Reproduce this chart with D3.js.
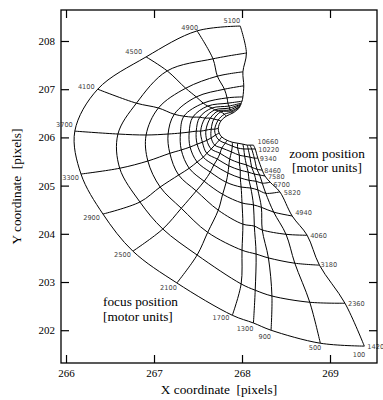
<!DOCTYPE html>
<html>
<head>
<meta charset="utf-8">
<script src="https://cdn.jsdelivr.net/npm/d3@7/dist/d3.min.js"></script>
<style>
  body { margin: 0; background: #fff; }
  text { white-space: pre; }
</style>
</head>
<body>
<svg id="chart" width="383" height="400"></svg>
<script>
// focus / zoom motor positions of the calibration mesh
const focusValues = [5100, 4900, 4500, 4100, 3700, 3300, 2900, 2500, 2100, 1700, 1300, 900, 500, 100];
const zoomValues = [1420, 2360, 3180, 4060, 4940, 5820, 6700, 7580, 8460, 9340, 10220, 10660];

// image X coordinate of each node: one row per focus value, one column per zoom value
const meshX = [
  [267.98, 268.05, 268.01, 268.02, 268.01, 268.00, 267.99, 267.99, 267.98, 267.98, 267.97, 267.97],
  [267.49, 267.67, 267.72, 267.80, 267.83, 267.84, 267.85, 267.86, 267.86, 267.88, 267.89, 267.90],
  [266.91, 267.15, 267.36, 267.48, 267.56, 267.61, 267.66, 267.69, 267.73, 267.76, 267.80, 267.82],
  [266.36, 266.80, 267.05, 267.23, 267.34, 267.44, 267.52, 267.58, 267.64, 267.68, 267.73, 267.76],
  [266.10, 266.59, 266.91, 267.16, 267.30, 267.40, 267.48, 267.53, 267.59, 267.65, 267.69, 267.73],
  [266.17, 266.61, 266.93, 267.18, 267.31, 267.41, 267.49, 267.55, 267.60, 267.65, 267.70, 267.74],
  [266.42, 266.84, 267.07, 267.28, 267.40, 267.49, 267.56, 267.60, 267.65, 267.69, 267.74, 267.77],
  [266.76, 267.10, 267.31, 267.48, 267.57, 267.64, 267.68, 267.72, 267.75, 267.77, 267.81, 267.83],
  [267.26, 267.49, 267.61, 267.73, 267.78, 267.82, 267.84, 267.85, 267.86, 267.88, 267.89, 267.89],
  [267.89, 267.99, 268.00, 268.01, 268.00, 267.99, 267.98, 267.98, 267.97, 267.97, 267.95, 267.95],
  [268.13, 268.15, 268.16, 268.14, 268.13, 268.10, 268.08, 268.07, 268.05, 268.03, 268.02, 268.01],
  [268.33, 268.34, 268.30, 268.23, 268.22, 268.18, 268.16, 268.14, 268.11, 268.09, 268.07, 268.06],
  [268.89, 268.77, 268.60, 268.50, 268.36, 268.27, 268.23, 268.20, 268.17, 268.14, 268.11, 268.09],
  [269.39, 269.17, 268.88, 268.74, 268.57, 268.43, 268.32, 268.26, 268.23, 268.18, 268.15, 268.13]
];

// image Y coordinate of each node, same layout as meshX
const meshY = [
  [208.31, 207.75, 207.36, 207.07, 206.84, 206.75, 206.71, 206.69, 206.67, 206.65, 206.63, 206.61],
  [208.21, 207.63, 207.27, 207.00, 206.82, 206.71, 206.65, 206.61, 206.57, 206.55, 206.53, 206.51],
  [207.67, 207.38, 207.02, 206.84, 206.71, 206.65, 206.61, 206.57, 206.55, 206.53, 206.48, 206.44],
  [207.00, 206.71, 206.61, 206.48, 206.44, 206.42, 206.42, 206.40, 206.40, 206.38, 206.36, 206.34],
  [206.13, 206.07, 206.05, 206.07, 206.09, 206.11, 206.13, 206.13, 206.15, 206.17, 206.17, 206.19],
  [205.24, 205.36, 205.51, 205.67, 205.74, 205.80, 205.86, 205.90, 205.94, 205.99, 206.05, 206.09],
  [204.41, 204.66, 204.97, 205.22, 205.36, 205.49, 205.59, 205.67, 205.76, 205.84, 205.94, 206.01],
  [203.64, 204.10, 204.53, 204.89, 205.09, 205.28, 205.43, 205.55, 205.67, 205.78, 205.88, 205.94],
  [202.98, 203.56, 204.03, 204.49, 204.82, 205.07, 205.26, 205.41, 205.55, 205.70, 205.82, 205.90],
  [202.31, 202.96, 203.66, 204.20, 204.64, 204.97, 205.16, 205.32, 205.47, 205.63, 205.78, 205.88],
  [202.15, 202.83, 203.58, 204.16, 204.60, 204.95, 205.11, 205.28, 205.43, 205.61, 205.76, 205.86],
  [202.00, 202.71, 203.50, 204.08, 204.55, 204.91, 205.09, 205.24, 205.38, 205.59, 205.76, 205.84],
  [201.73, 202.58, 203.39, 203.99, 204.45, 204.84, 205.05, 205.22, 205.34, 205.57, 205.76, 205.84],
  [201.67, 202.56, 203.35, 203.97, 204.37, 204.87, 205.07, 205.20, 205.32, 205.57, 205.76, 205.84]
];

const xTicks = [266, 267, 268, 269];
const yTicks = [202, 203, 204, 205, 206, 207, 208];

// label nudges in px (dx, dy from the node)
const focusLabelOffset = [[0,-5],[1,-3],[-4,-5],[-3,-3],[-2,-7],[-2,4],[-3,4],[-2,3],[0,5],[-3,2],[0,6],[0,6],[1,4],[1,8]];
const zoomLabelOffset = [[3,0],[3,0],[1,-1],[3,0],[3,-3],[4,1],[3,2],[3,1],[2,0],[2,0],[3,1],[4,-3]];

const MARGIN = {left: 61, top: 10, right: 377, bottom: 363};
const SERIF = '"Liberation Serif", "Times New Roman", serif';
const SANS = '"DejaVu Sans", sans-serif';

const svg = d3.select('#chart');

const x = d3.scaleLinear().domain([265.943, 269.534]).range([MARGIN.left, MARGIN.right]);
const y = d3.scaleLinear().domain([201.32, 208.643]).range([MARGIN.bottom, MARGIN.top]);

const line = d3.line()
  .x(d => x(d[0]))
  .y(d => y(d[1]))
  .curve(d3.curveCatmullRom.alpha(0.5));

// focus lines run across zoom values, zoom lines run across focus values
const focusLines = focusValues.map((f, i) => zoomValues.map((z, j) => [meshX[i][j], meshY[i][j]]));
const zoomLines = zoomValues.map((z, j) => focusValues.map((f, i) => [meshX[i][j], meshY[i][j]]));

const mesh = svg.append('g')
  .attr('fill', 'none')
  .attr('stroke', '#000')
  .attr('stroke-width', 1)
  .attr('stroke-linejoin', 'round');

mesh.selectAll('.focus-line')
  .data(focusLines)
  .enter().append('path')
  .attr('class', 'focus-line')
  .attr('d', line);

mesh.selectAll('.zoom-line')
  .data(zoomLines)
  .enter().append('path')
  .attr('class', 'zoom-line')
  .attr('d', line);

// focus labels on the outer (lowest zoom) edge
svg.append('g').selectAll('text')
  .data(focusValues)
  .enter().append('text')
  .attr('x', (f, i) => x(meshX[i][0]) + focusLabelOffset[i][0])
  .attr('y', (f, i) => y(meshY[i][0]) + focusLabelOffset[i][1])
  .attr('dy', '0.36em')
  .attr('text-anchor', 'end')
  .style('font-family', SANS)
  .style('font-size', '6.6px')
  .style('fill', '#444')
  .text(f => f);

// zoom labels at the focus = 100 end
const last = focusValues.length - 1;
svg.append('g').selectAll('text')
  .data(zoomValues)
  .enter().append('text')
  .attr('x', (z, j) => x(meshX[last][j]) + zoomLabelOffset[j][0])
  .attr('y', (z, j) => y(meshY[last][j]) + zoomLabelOffset[j][1])
  .attr('dy', '0.36em')
  .style('font-family', SANS)
  .style('font-size', '6.6px')
  .style('fill', '#444')
  .text(z => z);

// axes: inward ticks on all four sides, numbers only left and bottom
function styleAxis(g) {
  g.selectAll('.domain').remove();
  g.selectAll('line').attr('stroke', '#000').attr('stroke-width', 1.2);
  g.selectAll('text').style('font-family', SERIF).style('font-size', '11px').style('fill', '#000');
}

svg.append('g')
  .attr('transform', 'translate(0,' + MARGIN.bottom + ')')
  .call(d3.axisBottom(x).tickValues(xTicks).tickSizeInner(-8).tickSizeOuter(0).tickPadding(6).tickFormat(d3.format('d')))
  .call(styleAxis);

svg.append('g')
  .attr('transform', 'translate(0,' + MARGIN.top + ')')
  .call(d3.axisTop(x).tickValues(xTicks).tickSizeInner(-8).tickSizeOuter(0).tickFormat(''))
  .call(styleAxis);

svg.append('g')
  .attr('transform', 'translate(' + MARGIN.left + ',0)')
  .call(d3.axisLeft(y).tickValues(yTicks).tickSizeInner(-8).tickSizeOuter(0).tickPadding(6).tickFormat(d3.format('d')))
  .call(styleAxis);

svg.append('g')
  .attr('transform', 'translate(' + MARGIN.right + ',0)')
  .call(d3.axisRight(y).tickValues(yTicks).tickSizeInner(-8).tickSizeOuter(0).tickFormat(''))
  .call(styleAxis);

svg.append('rect')
  .attr('x', MARGIN.left)
  .attr('y', MARGIN.top)
  .attr('width', MARGIN.right - MARGIN.left)
  .attr('height', MARGIN.bottom - MARGIN.top)
  .attr('fill', 'none')
  .attr('stroke', '#000')
  .attr('stroke-width', 1.3);

// titles and annotations
const titles = svg.append('g')
  .style('font-family', SERIF)
  .style('font-size', '13.3px')
  .style('fill', '#000');

titles.append('text')
  .attr('x', (MARGIN.left + MARGIN.right) / 2)
  .attr('y', 394)
  .attr('text-anchor', 'middle')
  .text('X coordinate  [pixels]');

titles.append('text')
  .attr('transform', 'translate(20.5,' + ((MARGIN.top + MARGIN.bottom) / 2) + ') rotate(-90)')
  .attr('text-anchor', 'middle')
  .text('Y coordinate  [pixels]');

titles.append('text').attr('x', 327).attr('y', 158).attr('text-anchor', 'middle').text('zoom position');
titles.append('text').attr('x', 327).attr('y', 171.5).attr('text-anchor', 'middle').text('[motor units]');
titles.append('text').attr('x', 103).attr('y', 306).text('focus position');
titles.append('text').attr('x', 103).attr('y', 320.5).text('[motor units]');
</script>
</body>
</html>
